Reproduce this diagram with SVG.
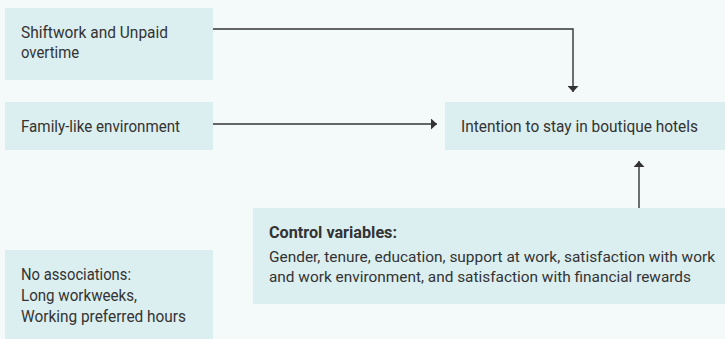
<svg xmlns="http://www.w3.org/2000/svg" width="725" height="339" viewBox="0 0 725 339">
<defs>
<style>
.box{fill:#dbeef0}
.t{font-family:Roboto,"Liberation Sans",sans-serif;font-size:16px;fill:#333}
.s{font-size:15px}
.b{font-weight:bold}
.c{fill:none;stroke:#333;stroke-width:1.4}
</style>
<marker id="ah" markerWidth="7" markerHeight="11" refX="6" refY="5.5" orient="auto" markerUnits="userSpaceOnUse">
<path d="M0,0 L6,5.5 L0,11 Z" fill="#333"/>
</marker>
</defs>
<rect width="725" height="339" fill="#f4fafa"/>
<g id="n1"><rect class="box" x="5" y="8" width="208" height="72"/>
<text class="t" x="21" y="38" textLength="147" lengthAdjust="spacingAndGlyphs">Shiftwork and Unpaid</text>
<text class="t" x="21" y="58" textLength="58" lengthAdjust="spacingAndGlyphs">overtime</text></g>
<g id="n2"><rect class="box" x="5" y="102" width="208" height="48"/>
<text class="t" x="21" y="132" textLength="159" lengthAdjust="spacingAndGlyphs">Family-like environment</text></g>
<g id="n3"><rect class="box" x="445" y="102" width="280" height="48"/>
<text class="t" x="461" y="132" textLength="237" lengthAdjust="spacingAndGlyphs">Intention to stay in boutique hotels</text></g>
<g id="n4"><rect class="box" x="5" y="250" width="208" height="89"/>
<text class="t" x="21" y="280" textLength="110" lengthAdjust="spacingAndGlyphs">No associations:</text>
<text class="t" x="21" y="301" textLength="116" lengthAdjust="spacingAndGlyphs">Long workweeks,</text>
<text class="t" x="21" y="322" textLength="165" lengthAdjust="spacingAndGlyphs">Working preferred hours</text></g>
<g id="n5"><rect class="box" x="253" y="208" width="472" height="96"/>
<text class="t b" x="269" y="238" textLength="128" lengthAdjust="spacingAndGlyphs">Control variables:</text>
<text class="t s" x="269" y="262" textLength="446" lengthAdjust="spacingAndGlyphs">Gender, tenure, education, support at work, satisfaction with work</text>
<text class="t s" x="269" y="282" textLength="422" lengthAdjust="spacingAndGlyphs">and work environment, and satisfaction with financial rewards</text></g>
<g id="connectors">
<path class="c" d="M213,29 H573 V92" marker-end="url(#ah)"/>
<path class="c" d="M213,124 H437" marker-end="url(#ah)"/>
<path class="c" d="M639,208 V161" marker-end="url(#ah)"/>
</g>
</svg>
